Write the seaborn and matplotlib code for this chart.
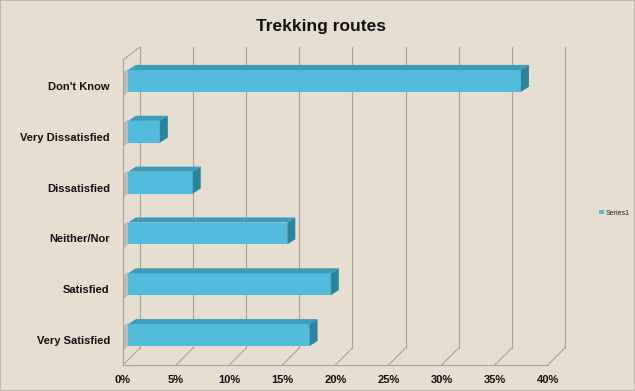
import matplotlib
matplotlib.use("Agg")
import matplotlib.pyplot as plt
import matplotlib.transforms as mtransforms
from matplotlib.patches import Polygon, Rectangle
import pandas as pd
import seaborn as sns

# Data
categories = ["Don't Know", "Very Dissatisfied", "Dissatisfied",
              "Neither/Nor", "Satisfied", "Very Satisfied"]
shares = [37.0, 3.0, 6.1, 15.0, 19.1, 17.1]
x_ticks = [0, 5, 10, 15, 20, 25, 30, 35, 40]
series_name = "Series1"

BG = "#e6ded1"
FRONT = "#52badb"
TOP = "#3c9dbb"
SIDE = "#2b839d"
GRID = "#a8a296"

sns.set_theme(style="white")
plt.rcParams["font.family"] = ["Liberation Sans", "DejaVu Sans"]

df = pd.DataFrame({"response": categories, "share": shares})

fig = plt.figure(figsize=(6.35, 3.91), dpi=100, facecolor=BG)
ax = fig.add_axes([0.1937, 0.0665, 0.669, 0.780])
ax.set_facecolor("none")

sns.barplot(data=df, y="response", x="share", orient="h", color=FRONT,
            width=0.43, saturation=1, ax=ax, zorder=3)

ax.set_xlim(0, 40)
ax.set_ylim(5.49, -0.51)

# back wall gridlines and floor diagonals (3D look)
back = mtransforms.offset_copy(ax.get_xaxis_transform(), fig=fig,
                               x=17, y=17, units="dots")
for t in x_ticks:
    ax.plot([t, t], [0, 0.987], transform=back, color=GRID, lw=0.8,
            zorder=1, clip_on=False)
    ax.annotate("", xy=(t, 0), xycoords=ax.get_xaxis_transform(),
                xytext=(17, 17), textcoords="offset pixels",
                arrowprops=dict(arrowstyle="-", color=GRID, lw=0.8,
                                shrinkA=0, shrinkB=0), zorder=1)
# top edge of the left wall
ax.annotate("", xy=(0, 1), xycoords="axes fraction",
            xytext=(17, 13), textcoords="offset pixels",
            arrowprops=dict(arrowstyle="-", color=GRID, lw=0.8,
                            shrinkA=0, shrinkB=0), zorder=1)

# bars sit a bit behind the front plane; add their 3D faces
mid = mtransforms.offset_copy(ax.transData, fig=fig, x=5, y=5, units="dots")
dx, dy = 0.75, 0.1
for p in list(ax.patches):
    x0, y0, w, h = p.get_x(), p.get_y(), p.get_width(), p.get_height()
    p.set_edgecolor("none")
    p.set_transform(mid)
    top = Polygon([(x0, y0), (x0 + w, y0), (x0 + w + dx, y0 - dy), (x0 + dx, y0 - dy)],
                  closed=True, facecolor=TOP, edgecolor="none", zorder=3,
                  transform=mid)
    side = Polygon([(x0 + w, y0), (x0 + w + dx, y0 - dy),
                    (x0 + w + dx, y0 + h - dy), (x0 + w, y0 + h)],
                   closed=True, facecolor=SIDE, edgecolor="none", zorder=3,
                   transform=mid)
    shadow = Polygon([(x0 - 0.8, y0 + 0.08), (x0, y0 - 0.02),
                      (x0, y0 + h), (x0 - 0.8, y0 + h + 0.15)],
                     closed=True, facecolor="#8d8678", alpha=0.4,
                     edgecolor="none", zorder=2, transform=mid)
    ax.add_patch(top)
    ax.add_patch(side)
    ax.add_patch(shadow)

for s in ["top", "right"]:
    ax.spines[s].set_visible(False)
for s in ["left", "bottom"]:
    ax.spines[s].set_color(GRID)
    ax.spines[s].set_linewidth(0.8)

ax.set_xticks(x_ticks)
ax.set_xticklabels([f"{t}%" for t in x_ticks], fontsize=8, fontweight="bold",
                   color="#111111")
ax.tick_params(axis="x", length=0, pad=7.5)
ax.tick_params(axis="y", length=0, pad=9.5, labelsize=8, labelcolor="#111111")
for lbl in ax.get_yticklabels():
    lbl.set_fontweight("bold")
ax.set_xlabel("")
ax.set_ylabel("")

fig.text(0.505, 0.931, "Trekking routes", ha="center", va="center",
         fontsize=12.5, fontweight="bold", color="#111111")

# legend
handle = Rectangle((0, 0), 1, 1, facecolor=FRONT, edgecolor="none")
fig.legend([handle], [series_name], loc="center left",
           bbox_to_anchor=(0.934, 0.455), frameon=False, fontsize=5,
           handlelength=0.6, handleheight=0.6, handletextpad=0.3)

fig.patches.append(Rectangle((0, 0), 1, 1, transform=fig.transFigure,
                             fill=False, edgecolor="#b8b2a8", lw=1.2))

fig.savefig("out.png", dpi=100, facecolor=BG)
